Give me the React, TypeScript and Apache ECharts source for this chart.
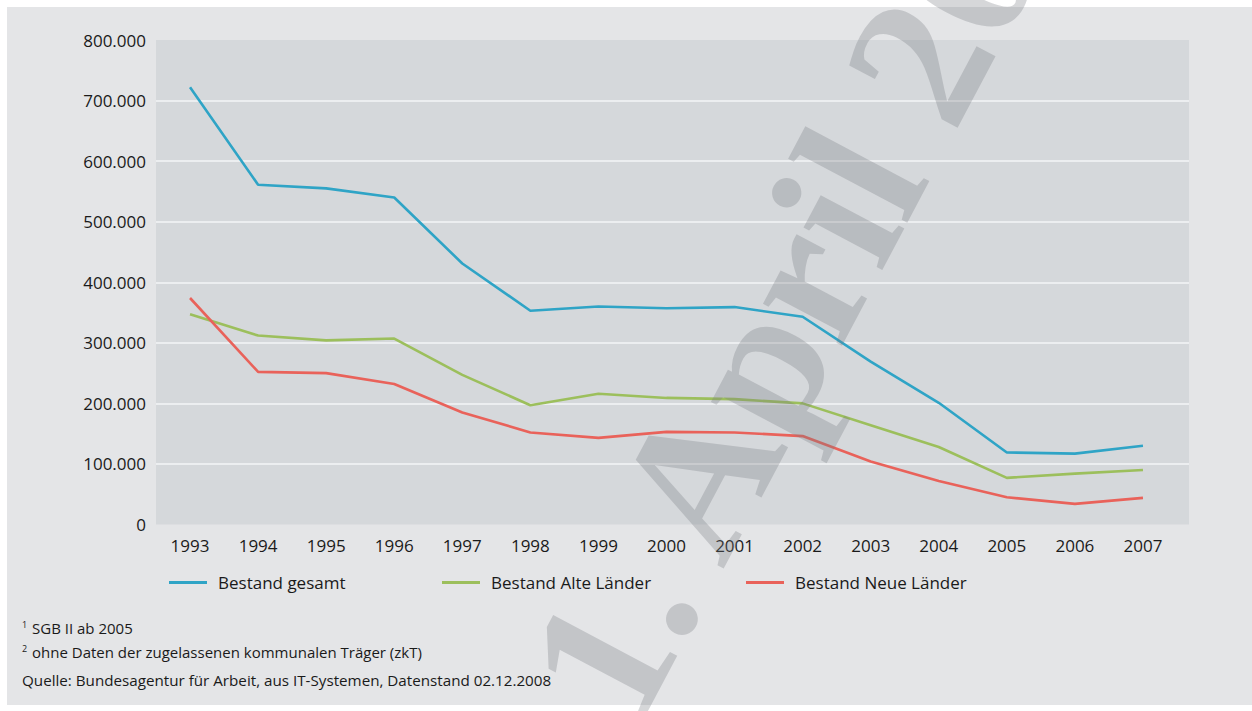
import React, { useEffect, useRef } from "react";
import * as echarts from "echarts";

const years = ["1993", "1994", "1995", "1996", "1997", "1998", "1999", "2000", "2001", "2002", "2003", "2004", "2005", "2006", "2007"];
const bestandGesamt = [722000, 561000, 555000, 540000, 431000, 353000, 360000, 357000, 359000, 343000, 269000, 201000, 119000, 117000, 130000];
const bestandAlte = [347000, 312000, 304000, 307000, 247000, 197000, 216000, 209000, 207000, 200000, 164000, 128000, 77000, 84000, 90000];
const bestandNeue = [374000, 252000, 250000, 232000, 185000, 152000, 143000, 153000, 152000, 146000, 104000, 72000, 45000, 34000, 44000];
const seriesNames = ["Bestand gesamt", "Bestand Alte Länder", "Bestand Neue Länder"];
const footnotes = ["SGB II ab 2005", "ohne Daten der zugelassenen kommunalen Träger (zkT)", "Quelle: Bundesagentur für Arbeit, aus IT-Systemen, Datenstand 02.12.2008"];
const watermark = "1. April 2009";

const FONT = '"Open Sans", sans-serif';
const TXT = "#1a1a1a";
const COLORS = ["#2fa4c6", "#9cbf5c", "#e9625a"];

function fmt(v: number): string {
  if (v === 0) return "0";
  return Math.round(v / 1000) + ".000";
}

export default function App() {
  const ref = useRef<HTMLDivElement>(null);
  useEffect(() => {
    document.body.style.margin = "0";
    const chart = echarts.init(ref.current!, null, { renderer: "svg" });
    const legendLeft = [169, 442, 746];
    const option: any = {
      animation: false,
      backgroundColor: "#ffffff",
      grid: [
        { left: 156, top: 40, width: 1033, height: 484.5, show: true, backgroundColor: "#d5d8db", borderWidth: 0 },
        { left: 156, top: 40, width: 1021, height: 484.5, show: false },
      ],
      xAxis: [
        { gridIndex: 0, type: "value", min: 0, max: 1, show: false },
        {
          gridIndex: 1,
          type: "category",
          data: years,
          boundaryGap: true,
          axisLine: { show: false },
          axisTick: { show: false },
          axisLabel: { color: TXT, fontSize: 17, fontFamily: FONT, margin: 12 },
        },
      ],
      yAxis: [
        {
          gridIndex: 0,
          type: "value",
          min: 0,
          max: 800000,
          interval: 100000,
          axisLine: { show: false },
          axisTick: { show: false },
          axisLabel: { color: TXT, fontSize: 17, fontFamily: FONT, margin: 10, formatter: fmt },
          splitLine: { show: true, showMinLine: false, showMaxLine: false, lineStyle: { color: "#eceef0", width: 2 } },
        },
        { gridIndex: 1, type: "value", min: 0, max: 800000, interval: 100000, show: false, splitLine: { show: false } },
      ],
      legend: seriesNames.map((n, i) => ({
        data: [n],
        left: legendLeft[i],
        top: 574,
        padding: 0,
        icon: "rect",
        itemWidth: 38,
        itemHeight: 3,
        textStyle: { color: TXT, fontSize: 17, fontFamily: FONT, padding: [0, 0, 0, 6] },
      })),
      series: [bestandGesamt, bestandAlte, bestandNeue].map((d, i) => ({
        name: seriesNames[i],
        type: "line",
        xAxisIndex: 1,
        yAxisIndex: 1,
        data: d,
        symbol: "none",
        color: COLORS[i],
        lineStyle: { width: 2.6, color: COLORS[i] },
      })),
      graphic: [
        { type: "rect", z: -100, shape: { x: 7, y: 7, width: 1245, height: 698 }, style: { fill: "#e4e5e7" } },
        { type: "text", x: 22, y: 620, style: { text: "1", font: `9px ${FONT}`, fill: TXT } },
        { type: "text", x: 32, y: 620, style: { text: footnotes[0], font: `15px ${FONT}`, fill: TXT } },
        { type: "text", x: 22, y: 644, style: { text: "2", font: `9px ${FONT}`, fill: TXT } },
        { type: "text", x: 32, y: 644, style: { text: footnotes[1], font: `15px ${FONT}`, fill: TXT } },
        { type: "text", x: 22, y: 672, style: { text: footnotes[2], font: `15.2px ${FONT}`, fill: TXT } },
        {
          type: "text",
          z: 100,
          x: 578,
          y: 702,
          rotation: (62 * Math.PI) / 180,
          silent: true,
          style: {
            text: watermark,
            font: 'bold 195px "Liberation Serif", serif',
            fill: "rgba(120,124,128,0.3)",
            textAlign: "left",
            textVerticalAlign: "middle",
          },
        },
      ],
    };
    chart.setOption(option);
    return () => chart.dispose();
  }, []);
  return <div ref={ref} style={{ width: 1252, height: 711 }} />;
}
